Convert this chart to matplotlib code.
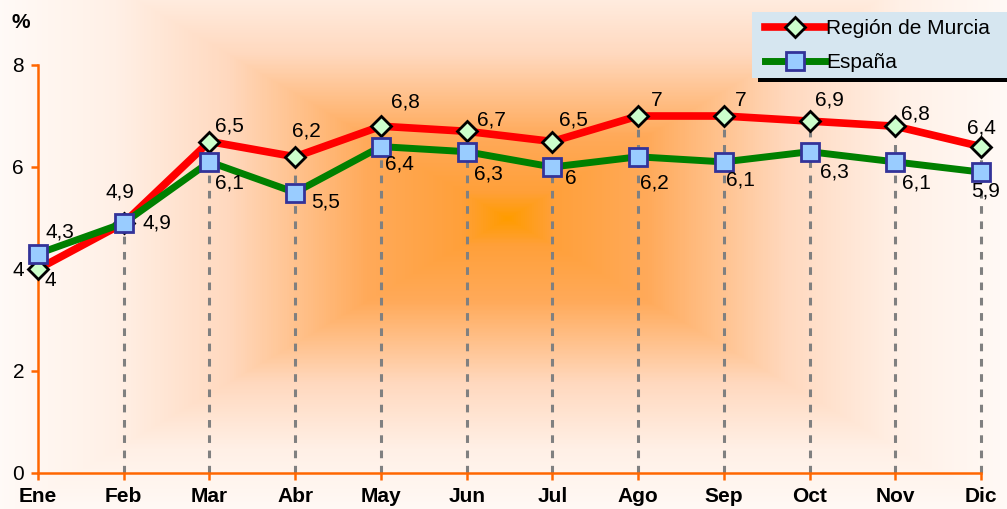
import numpy as np
import matplotlib
matplotlib.use("Agg")
import matplotlib.pyplot as plt
from matplotlib.colors import LinearSegmentedColormap
from matplotlib.patches import Rectangle
from matplotlib.lines import Line2D

plt.rcParams['font.family'] = ['Liberation Sans', 'DejaVu Sans']

# data
months = ['Ene', 'Feb', 'Mar', 'Abr', 'May', 'Jun', 'Jul', 'Ago', 'Sep', 'Oct', 'Nov', 'Dic']
murcia = [4, 4.9, 6.5, 6.2, 6.8, 6.7, 6.5, 7, 7, 6.9, 6.8, 6.4]
espana = [4.3, 4.9, 6.1, 5.5, 6.4, 6.3, 6, 6.2, 6.1, 6.3, 6.1, 5.9]
yticks = [0, 2, 4, 6, 8]

# label offsets (pixels, y downward) for the data labels
off_murcia = [(12, 11), (-4, -31), (20, -15), (11, -26), (25, -24), (25, -11),
              (21, -22), (19, -16), (17, -16), (20, -21), (20, -12), (0, -19)]
off_espana = [(22, -22), (33, 0), (20, 21), (30, 10), (19, 17), (22, 22),
              (18, 12), (16, 26), (17, 18), (25, 20), (21, 21), (5, 19)]

W, H = 1007, 509
FS = 15
fig = plt.figure(figsize=(W / 100, H / 100), dpi=100)

# background: rectangular gradient orange -> white
bg = fig.add_axes([0, 0, 1, 1], zorder=-5)
xx, yy = np.meshgrid(np.arange(W), np.arange(H))
t = np.maximum(np.abs(xx - 507) / 560.0, np.abs(yy - 218) / 330.0)
s = np.clip(1 - t, 0, 1)
cmap = LinearSegmentedColormap.from_list('bgc', [(0, '#ffffff'), (0.3, '#fff0e6'),
                                                 (0.5, '#ffd9bf'), (0.75, '#ffaa5a'),
                                                 (0.92, '#ffa03a'), (1.0, '#ff9c00')])
bg.imshow(s, cmap=cmap, vmin=0, vmax=1, aspect='auto', interpolation='bilinear')
bg.axis('off')

ax = fig.add_axes([38 / W, 1 - 473 / H, (981 - 38) / W, (473 - 65) / H])
ax.set_facecolor('none')
x = np.arange(len(months))

# drop lines
tops = np.maximum(murcia, espana)
ax.vlines(x[1:], 0, tops[1:], colors='#808080', linewidth=2.2,
          linestyles=(0, (2.5, 2.5)), zorder=1, clip_on=False)

ax.plot(x, murcia, color='#ff0000', linewidth=5.5, marker='D', markersize=10,
        markerfacecolor='#ccffcc', markeredgecolor='black', markeredgewidth=2,
        clip_on=False, zorder=3)
ax.plot(x, espana, color='#008000', linewidth=5, marker='s', markersize=13,
        markerfacecolor='#99ccff', markeredgecolor='#333399', markeredgewidth=2,
        clip_on=False, zorder=4)

def fmt(v):
    return ('%g' % v).replace('.', ',')

for i in range(len(months)):
    dx, dy = off_murcia[i]
    ax.annotate(fmt(murcia[i]), (x[i], murcia[i]), xytext=(dx, -dy),
                textcoords='offset pixels', ha='center', va='center',
                fontsize=FS, zorder=6)
    dx, dy = off_espana[i]
    ax.annotate(fmt(espana[i]), (x[i], espana[i]), xytext=(dx, -dy),
                textcoords='offset pixels', ha='center', va='center',
                fontsize=FS, zorder=6)

ax.set_xlim(0, 11)
ax.set_ylim(0, 8)
ax.set_xticks(x)
ax.set_xticklabels(months, fontweight='bold', fontsize=FS)
ax.set_yticks(yticks)
ax.set_yticklabels([str(v) for v in yticks], fontsize=FS)
for sp in ['top', 'right']:
    ax.spines[sp].set_visible(False)
for sp in ['left', 'bottom']:
    ax.spines[sp].set_color('#ff6600')
    ax.spines[sp].set_linewidth(1.8)
ax.tick_params(axis='both', colors='#ff6600', width=1.8, length=5, labelcolor='black')
ax.tick_params(axis='x', pad=5)
ax.tick_params(axis='y', pad=5)

fig.text(11 / W, 1 - 22 / H, '%', fontweight='bold', fontsize=FS, va='center', ha='left')

# legend box
fig.patches.append(Rectangle((758 / W, 1 - 82 / H), (W - 758) / W, 5 / H,
                             transform=fig.transFigure, facecolor='black', zorder=8))
fig.patches.append(Rectangle((752 / W, 1 - 78 / H), (W - 752) / W, 66 / H,
                             transform=fig.transFigure, facecolor='#d6e6f0',
                             edgecolor='none', zorder=9))
fig.lines.append(Line2D([765 / W, 825 / W], [1 - 27 / H] * 2, transform=fig.transFigure,
                        color='#ff0000', linewidth=5.5, zorder=10))
fig.lines.append(Line2D([795 / W], [1 - 27 / H], transform=fig.transFigure, marker='D',
                        markersize=10, markerfacecolor='#ccffcc', markeredgecolor='black',
                        markeredgewidth=2, zorder=11))
fig.lines.append(Line2D([765 / W, 825 / W], [1 - 61 / H] * 2, transform=fig.transFigure,
                        color='#008000', linewidth=5, zorder=10))
fig.lines.append(Line2D([795 / W], [1 - 61 / H], transform=fig.transFigure, marker='s',
                        markersize=13, markerfacecolor='#99ccff', markeredgecolor='#333399',
                        markeredgewidth=2, zorder=11))
fig.text(826 / W, 1 - 28 / H, 'Región de Murcia', fontsize=FS, va='center', zorder=12)
fig.text(826 / W, 1 - 62 / H, 'España', fontsize=FS, va='center', zorder=12)

fig.savefig('out.png', dpi=100)
